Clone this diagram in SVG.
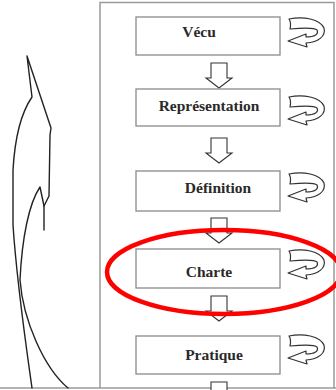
<svg xmlns="http://www.w3.org/2000/svg" width="336" height="390" viewBox="0 0 336 390">
<style>
.frame{fill:none;stroke:#9a9a9a;stroke-width:1.5}
.box{fill:#fff;stroke:#8a8a8a;stroke-width:1.3}
.lbl{font-family:"Liberation Serif","Times New Roman",serif;font-weight:bold;font-size:15.5px;fill:#2a2a2a;text-anchor:middle}
.dn{fill:#fff;stroke:#333;stroke-width:1.1;stroke-linejoin:miter}
.curl{fill:#fff;stroke:#333;stroke-width:1.2;stroke-linejoin:round}
.sketch{fill:none;stroke:#222;stroke-width:1.4;stroke-linejoin:round;stroke-linecap:round}
</style>
<defs>
<path id="dnArrow" class="dn" d="M-8,0 L8,0 L8,15 L13,15 L0,25 L-13,15 L-8,15 Z"/>
<path id="curlArrow" class="curl" d="M2,2 C16,-1 33,2 37,11 C39,19 32,25 19,26 L20,30 L1,24 L19,17 L19,20 C28,20 32,17 30,13 C27,10 14,11 3,12 C4,8 4,5 2,2 Z"/>
</defs>
<rect width="336" height="390" fill="#fff"/>
<g id="frame">
<path class="frame" d="M100,388 L100,2.5 L334,2.5 L334,388"/>
<path class="frame" d="M0,388 L336,388"/>
</g>
<g id="sketch">
<path class="sketch" d="M44,230 L44,206 L49,196 L50,135 L51,128 L27,56 L32,97 C21,113 15,135 13,170 L13,225 C17,285 26,345 32,388"/>
<path class="sketch" d="M44,206 L40,187 C29,203 22,238 20,280 C23,320 44,368 68,388"/>
</g>
<g id="connectors">
<use href="#dnArrow" x="219" y="63"/>
<use href="#dnArrow" x="219" y="138"/>
<use href="#dnArrow" x="219" y="218"/>
<use href="#dnArrow" x="219" y="296"/>
<use href="#dnArrow" x="219" y="382"/>
<use href="#curlArrow" x="287" y="17"/>
<use href="#curlArrow" x="287" y="95"/>
<use href="#curlArrow" x="287" y="172"/>
<use href="#curlArrow" x="287" y="249"/>
<use href="#curlArrow" x="287" y="334"/>
</g>
<g id="vecu"><rect class="box" x="136" y="17" width="144" height="38"/><text class="lbl" x="199" y="37">Vécu</text></g>
<g id="representation"><rect class="box" x="136" y="89" width="144" height="37"/><text class="lbl" x="209" y="111">Représentation</text></g>
<g id="definition"><rect class="box" x="136" y="171" width="144" height="40"/><text class="lbl" x="218" y="193">Définition</text></g>
<g id="charte"><rect class="box" x="136" y="249" width="144" height="39"/><text class="lbl" x="209" y="277">Charte</text></g>
<g id="pratique"><rect class="box" x="136" y="336" width="144" height="38"/><text class="lbl" x="214" y="360">Pratique</text></g>
<g id="highlight">
<ellipse cx="224" cy="272" rx="117" ry="42" fill="none" stroke="#ff0000" stroke-width="4.5"/>
</g>
</svg>
